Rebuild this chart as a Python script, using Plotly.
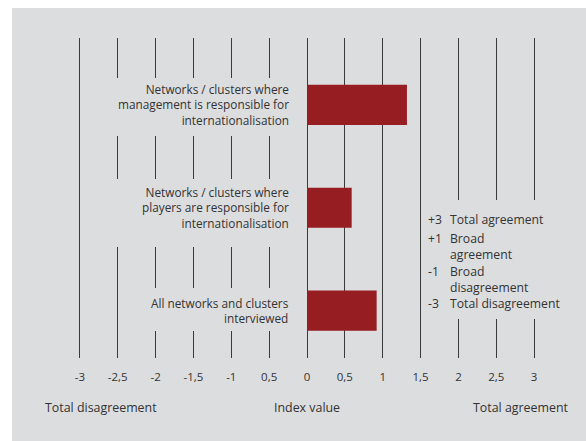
import plotly.graph_objects as go

# ---- data ----
categories = [
    "Networks / clusters where<br>management is responsible for<br>internationalisation",
    "Networks / clusters where<br>players are responsible for<br>internationalisation",
    "All networks and clusters<br>interviewed",
]
index_values = [1.32, 0.59, 0.92]
tick_vals = [-3, -2.5, -2, -1.5, -1, -0.5, 0, 0.5, 1, 1.5, 2, 2.5, 3]
tick_text = ["-3", "-2,5", "-2", "-1,5", "-1", "0,5", "0", "0,5", "1", "1,5", "2", "2,5", "3"]
legend_codes = ["+3", "+1", "-1", "-3"]
legend_texts = ["Total agreement", "Broad<br>agreement", "Broad<br>disagreement", "Total disagreement"]
axis_titles = ["Total disagreement", "Index value", "Total agreement"]

# ---- geometry helpers (page pixel -> paper); body margin removed in page ----
W, H = 586, 441
ML, MR, MT, MB = 42, 14, 38, 83
PW, PH = W - ML - MR, H - MT - MB


def px(xp):
    return (xp - ML) / PW


def py(yp):
    return (H - MB - yp) / PH


BG = "#dcdddf"
BAR = "#961d22"
LINE = "#3a3a3a"
TXT = "#333333"
FONT = "Open Sans"

fig = go.Figure()
fig.add_trace(go.Bar(
    x=index_values, y=categories, orientation="h",
    marker=dict(color=BAR, line=dict(width=0)), width=0.39,
    hoverinfo="x+y", showlegend=False,
))

shapes = [
    # grey panel
    dict(type="rect", xref="paper", yref="paper", x0=px(12), x1=px(600), y0=py(460), y1=py(8),
         fillcolor=BG, line=dict(width=0), layer="below"),
]
# masks that interrupt the grid lines behind the text blocks
for (x0, x1, y0, y1) in [(95, 296, 78, 136), (95, 296, 179, 247), (125, 296, 288, 331), (425, 600, 200, 319)]:
    shapes.append(dict(type="rect", xref="paper", yref="paper", x0=px(x0), x1=px(x1), y0=py(y1), y1=py(y0),
                       fillcolor=BG, line=dict(width=0), layer="above"))

annotations = []
for c in categories:
    annotations.append(dict(x=-0.21, y=c, xref="x", yref="y", text=c, showarrow=False,
                            xanchor="right", yanchor="middle", align="right",
                            font=dict(family=FONT, size=11.8, color=TXT)))

# bottom titles
for t, xv in zip(axis_titles, [-2.72, 0.0, 2.83]):
    annotations.append(dict(x=xv, y=py(407), xref="x", yref="paper", text=t, showarrow=False,
                            xanchor="center", yanchor="middle",
                            font=dict(family=FONT, size=12.4, color=TXT)))

# legend block
item_tops = [209, 228, 261, 293]
for code, txt, top in zip(legend_codes, legend_texts, item_tops):
    annotations.append(dict(x=px(426), y=py(top), xref="paper", yref="paper", text=code, showarrow=False,
                            xanchor="left", yanchor="top", align="left",
                            font=dict(family=FONT, size=12.2, color=TXT)))
    annotations.append(dict(x=px(448), y=py(top), xref="paper", yref="paper", text=txt, showarrow=False,
                            xanchor="left", yanchor="top", align="left",
                            font=dict(family=FONT, size=12.2, color=TXT)))

fig.update_layout(
    width=W, height=H,
    margin=dict(l=ML, r=MR, t=MT, b=MB),
    paper_bgcolor="white", plot_bgcolor=BG,
    xaxis=dict(range=[-3.5, 3.5], tickvals=tick_vals, ticktext=tick_text,
               showgrid=True, gridcolor=LINE, gridwidth=1,
               zeroline=True, zerolinecolor=LINE, zerolinewidth=1,
               showline=False, ticks="", ticklabelstandoff=10,
               tickfont=dict(family=FONT, size=11.5, color=TXT), fixedrange=True),
    yaxis=dict(categoryorder="array", categoryarray=categories, range=[2.46, -0.65],
               showticklabels=False, showgrid=False, zeroline=False, showline=False, ticks="",
               fixedrange=True),
    shapes=shapes, annotations=annotations,
    bargap=0.6,
)

fig.write_html("out.html", config={"displayModeBar": False},
               post_script="document.body.style.margin='0';document.body.style.overflow='hidden';")
